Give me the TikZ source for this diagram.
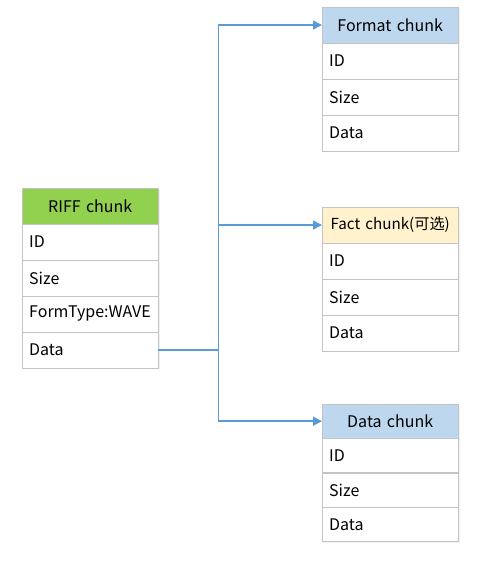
\documentclass[tikz,border=0pt]{standalone}
\usepackage{fontspec}
\setmainfont{Noto Sans CJK SC}
\usetikzlibrary{arrows.meta,positioning,shadows}
\definecolor{riffgreen}{HTML}{92D050}
\definecolor{hdblue}{HTML}{BDD7EE}
\definecolor{hdcream}{HTML}{FFF2CC}
\definecolor{linkblue}{HTML}{5B9BD5}
\definecolor{cellgray}{HTML}{C4C4C4}
\tikzset{
  cell/.style={draw=cellgray, fill=white, anchor=north west, inner sep=0pt,
    minimum width=136pt, minimum height=35.6pt, text width=122pt, align=left,
    font=\fontsize{16}{18}\selectfont,
    drop shadow={shadow xshift=1.5pt, shadow yshift=-1.5pt, opacity=0.12}},
  head/.style={cell, align=center},
  link/.style={linkblue, line width=1.6pt},
  tip/.style={-{Triangle[length=9pt,width=9pt]}},
}
\begin{document}
\begin{tikzpicture}[x=1pt,y=-1pt]
  \useasboundingbox (0,0) rectangle (480,570);
  % RIFF chunk
  \node[head,fill=riffgreen] (riff) at (22,188) {RIFF chunk};
  \node[cell] (riffid) at (riff.south west) {ID};
  \node[cell] (riffsize) at (riffid.south west) {Size};
  \node[cell] (riffform) at (riffsize.south west) {FormType:WAVE};
  \node[cell] (riffdata) at (riffform.south west) {Data};
  % Format chunk
  \node[head,fill=hdblue] (fmt) at (322,7) {Format chunk};
  \node[cell] (fmtid) at (fmt.south west) {ID};
  \node[cell] (fmtsize) at (fmtid.south west) {Size};
  \node[cell] (fmtdata) at (fmtsize.south west) {Data};
  % Fact chunk
  \node[head,fill=hdcream,font=\fontsize{15.2}{17}\selectfont] (fact) at (322,207) {Fact chunk(可选)};
  \node[cell] (factid) at (fact.south west) {ID};
  \node[cell] (factsize) at (factid.south west) {Size};
  \node[cell] (factdata) at (factsize.south west) {Data};
  % Data chunk
  \node[head,fill=hdblue,minimum height=34pt] (data) at (322,404) {Data chunk};
  \node[cell,minimum height=34pt] (dataid) at (data.south west) {ID};
  \node[cell,minimum height=34pt] (datasize) at (dataid.south west) {Size};
  \node[cell,minimum height=34pt] (datadata) at (datasize.south west) {Data};
  % links
  \coordinate (split) at ([xshift=60pt]riffdata.east);
  \draw[link] (riffdata.east) -- (split);
  \draw[link,tip] (split) |- (fmt.west);
  \draw[link,tip] (split) |- (fact.west);
  \draw[link,tip] (split) |- (data.west);
\end{tikzpicture}
\end{document}
